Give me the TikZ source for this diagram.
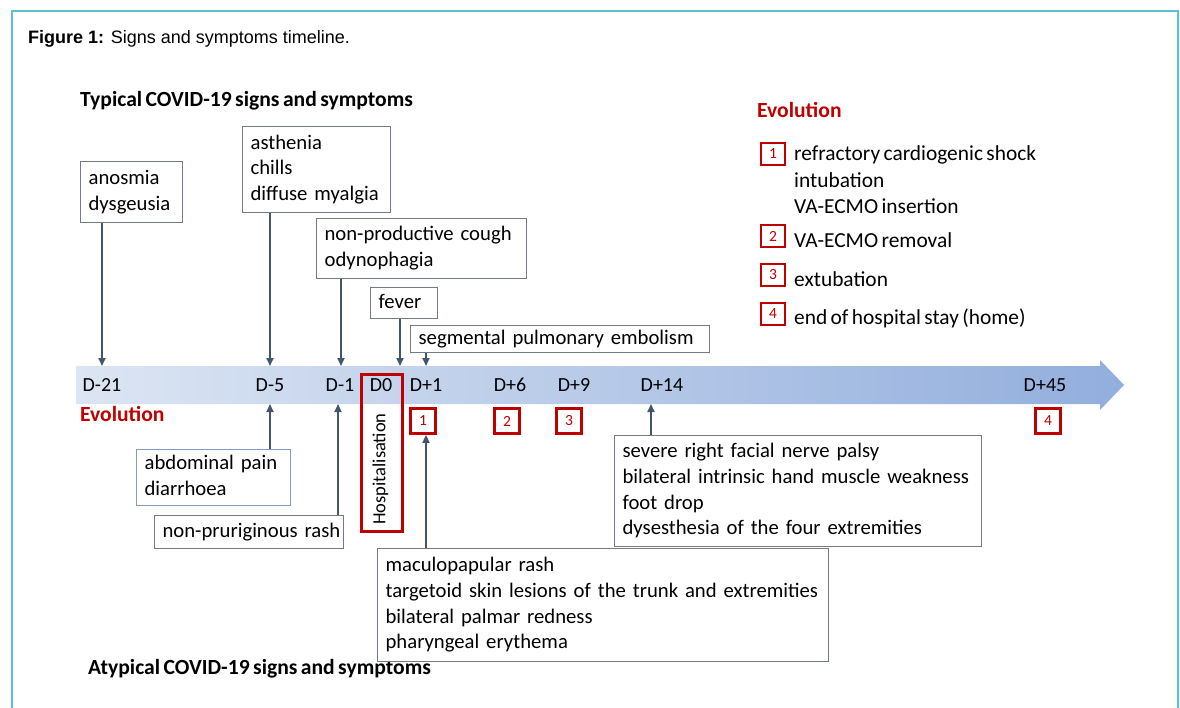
\documentclass[tikz,border=0pt]{standalone}
\usepackage{fontspec}
\setmainfont{Carlito}
\newfontfamily\carl[WordSpace=0.7]{Carlito}
\newfontfamily\arial{Liberation Sans}
\usetikzlibrary{arrows.meta}
\newcommand\mylines[1]{\begin{tabular}{@{}l@{}}#1\end{tabular}}
\definecolor{framec}{HTML}{5BC0D0}
\definecolor{boxc}{HTML}{737B88}
\definecolor{arrc}{HTML}{44546A}
\definecolor{redc}{HTML}{C00000}
\definecolor{bandl}{HTML}{DCE5F3}
\definecolor{bandr}{HTML}{92AEDD}
\tikzset{
  sbox/.style={draw=boxc, fill=white, line width=1.2, inner xsep=8, inner ysep=0,
    anchor=north west, font=\carl\fontsize{20.7}{25.7}\selectfont},
  arr/.style={draw=arrc, line width=1.8, -{Triangle[length=8pt,width=7pt]}},
  numbox/.style={draw=redc, line width=2.8, minimum width=25, minimum height=25,
    inner sep=0, text=redc, font=\carl\fontsize{15.5}{15}\selectfont},
  dlab/.style={font=\carl\fontsize{20}{24}\selectfont, text=black},
  legtext/.style={anchor=west, inner sep=0, font=\carl\fontsize{21.4}{25.7}\selectfont},
  heading/.style={anchor=west, inner sep=0, font=\carl\bfseries\fontsize{21.6}{25}\selectfont}
}
\begin{document}
\begin{tikzpicture}[x=1pt,y=-1pt]
\useasboundingbox (0,0) rectangle (1180,708);
% frame
\draw[framec, line width=2] (12,708) -- (12,11) -- (1178,11) -- (1178,708);
% title
\node[anchor=base west, inner sep=0, font=\arial\fontsize{18}{22}\selectfont] (title) at (28,44)
  {\textbf{Figure 1:} Signs and symptoms timeline.};
\node[heading] (typical) at (80,101) {Typical COVID-19 signs and symptoms};
\node[heading] (atypical) at (88,669) {Atypical COVID-19 signs and symptoms};
% band
\shade[left color=bandl, right color=bandr]
  (76,366) -- (1100,366) -- (1100,360) -- (1124,385) -- (1100,410) -- (1100,404) -- (76,404) -- cycle;
% day labels
\node[dlab] (d21) at (102,385) {D-21};
\node[dlab] (d5) at (270,385) {D-5};
\node[dlab] (d1m) at (340,385) {D-1};
\node[dlab] (d0) at (381,385) {D0};
\node[dlab] (d1) at (426,385) {D+1};
\node[dlab] (d6) at (510,385) {D+6};
\node[dlab] (d9) at (574,385) {D+9};
\node[dlab] (d14) at (662,385) {D+14};
\node[dlab] (d45) at (1045,385) {D+45};
% band anchor coordinates
\coordinate (t21) at (102,366);
\coordinate (t5) at (270,366);
\coordinate (t1m) at (341,366);
\coordinate (t0) at (400,366);
\coordinate (t1) at (426,366);
\coordinate (b5) at (270,404);
\coordinate (b1m) at (338,404);
\coordinate (b14) at (651,404);
% hospitalisation
\node[draw=redc, line width=2.8, anchor=north west, minimum width=41, minimum height=157, inner sep=0] (hosp) at (360,373) {};
\node[rotate=90, inner sep=0, font=\carl\fontsize{18.5}{20}\selectfont] (hospt) at (380.5,469) {Hospitalisation};
\node[heading, text=redc] (evol1) at (80,414) {Evolution};
% number boxes on timeline
\node[numbox] (n1) at (423,421) {1};
\node[numbox] (n2) at (507,421) {2};
\node[numbox] (n3) at (569,421) {3};
\node[numbox] (n4) at (1048,421) {4};
% top boxes
\node[sbox, text width=86, minimum height=61] (anos) at (80,161) {\mylines{anosmia\\dysgeusia}};
\node[sbox, text width=132, minimum height=86] (asth) at (242,126) {\mylines{asthenia\\chills\\diffuse myalgia}};
\node[sbox, text width=194, minimum height=60] (cough) at (316,218) {\mylines{non-productive cough\\odynophagia}};
\node[sbox, text width=51, minimum height=31] (fever) at (370,287) {\mylines{fever}};
\node[sbox, text width=283, minimum height=27] (emb) at (410,325) {\mylines{segmental pulmonary embolism}};
% bottom boxes
\node[sbox, draw=bandr!80!arrc, text width=138, minimum height=56] (abd) at (136,449) {\mylines{abdominal pain\\diarrhoea}};
\node[sbox, text width=173, minimum height=33] (rash) at (154,515) {\mylines{non-pruriginous rash}};
\node[sbox, text width=351, minimum height=111] (neuro) at (614,435) {\mylines{severe right facial nerve palsy\\bilateral intrinsic hand muscle weakness\\foot drop\\dysesthesia of the four extremities}};
\node[sbox, text width=435, minimum height=113] (macu) at (377,548) {\mylines{maculopapular rash\\targetoid skin lesions of the trunk and extremities\\bilateral palmar redness\\pharyngeal erythema}};
% arrows
\draw[arr] (anos.south -| t21) -- (t21);
\draw[arr] (asth.south -| t5) -- (t5);
\draw[arr] (cough.south -| t1m) -- (t1m);
\draw[arr] (fever.south -| t0) -- (t0);
\draw[arr] (emb.south -| t1) -- (t1);
\draw[arr] (abd.north -| b5) -- (b5);
\draw[arr] (rash.north -| b1m) -- (b1m);
\draw[arr] (neuro.north -| b14) -- (b14);
\draw[arr] (macu.north -| t1) -- (n1.south -| t1);
% legend
\node[heading, text=redc] (evol2) at (757,110) {Evolution};
\node[numbox, minimum height=22, minimum width=24] (l1) at (773,154) {1};
\node[numbox, minimum height=22, minimum width=24] (l2) at (773,236) {2};
\node[numbox, minimum height=22, minimum width=24] (l3) at (773,275) {3};
\node[numbox, minimum height=22, minimum width=24] (l4) at (773,314) {4};
\node[legtext] (lt1) at (794,155) {refractory cardiogenic shock};
\node[legtext] (lt1b) at (794,180) {intubation};
\node[legtext] (lt1c) at (794,206) {VA-ECMO insertion};
\node[legtext] (lt2) at (794,240) {VA-ECMO removal};
\node[legtext] (lt3) at (794,279) {extubation};
\node[legtext] (lt4) at (794,318) {end of hospital stay (home)};
\end{tikzpicture}
\end{document}
